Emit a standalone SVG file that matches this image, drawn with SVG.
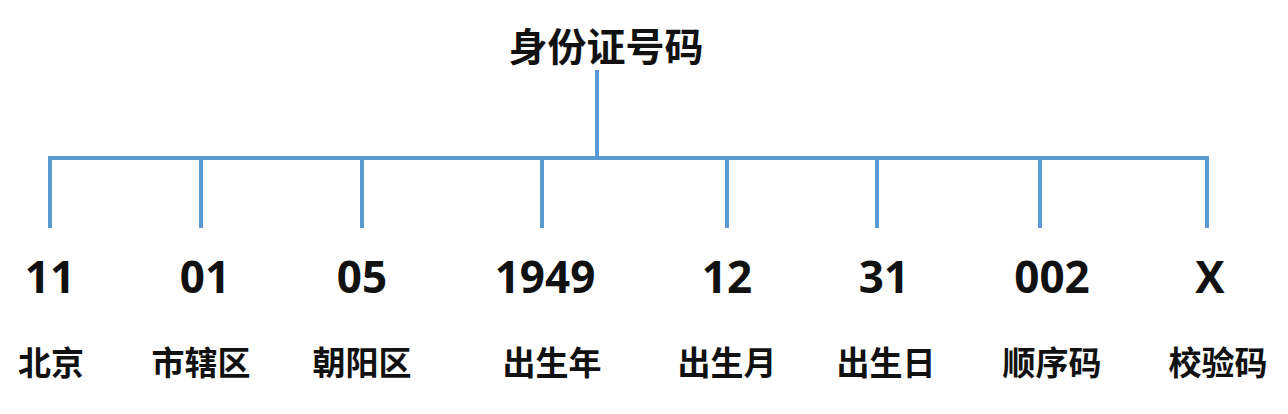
<svg xmlns="http://www.w3.org/2000/svg" width="1288" height="414" viewBox="0 0 1288 414">
<style>
.ln{stroke:#5b9bd5;stroke-width:4;fill:none;stroke-linecap:butt}
.num{font-family:"Open Sans","Liberation Sans",sans-serif;font-weight:bold;font-size:44px;fill:#111;text-anchor:middle}
.lab{font-family:"Noto Sans CJK SC",sans-serif;font-weight:bold;font-size:33px;fill:#111;text-anchor:middle}
.title{font-family:"Noto Sans CJK SC",sans-serif;font-weight:bold;font-size:39px;fill:#111;text-anchor:middle}
</style>
<rect width="1288" height="414" fill="#fff"/>
<g id="connectors">
<path class="ln" d="M597 70V158M48 158H1209M50 156V228M201 156V228M362 156V228M542 156V228M727 156V228M877 156V228M1040 156V228M1207 156V228"/>
</g>
<g id="root"><text class="title" x="606" y="61">身份证号码</text></g>
<g id="n1"><text class="num" x="50" y="293">11</text><text class="lab" x="51" y="375">北京</text></g>
<g id="n2"><text class="num" x="205" y="293">01</text><text class="lab" x="201" y="375">市辖区</text></g>
<g id="n3"><text class="num" x="362" y="293">05</text><text class="lab" x="362" y="375">朝阳区</text></g>
<g id="n4"><text class="num" x="545" y="293">1949</text><text class="lab" x="552" y="375">出生年</text></g>
<g id="n5"><text class="num" x="727" y="293">12</text><text class="lab" x="727" y="375">出生月</text></g>
<g id="n6"><text class="num" x="884" y="293">31</text><text class="lab" x="886" y="375">出生日</text></g>
<g id="n7"><text class="num" x="1052" y="293">002</text><text class="lab" x="1052" y="375">顺序码</text></g>
<g id="n8"><text class="num" x="1210" y="293">X</text><text class="lab" x="1218" y="375">校验码</text></g>
</svg>
